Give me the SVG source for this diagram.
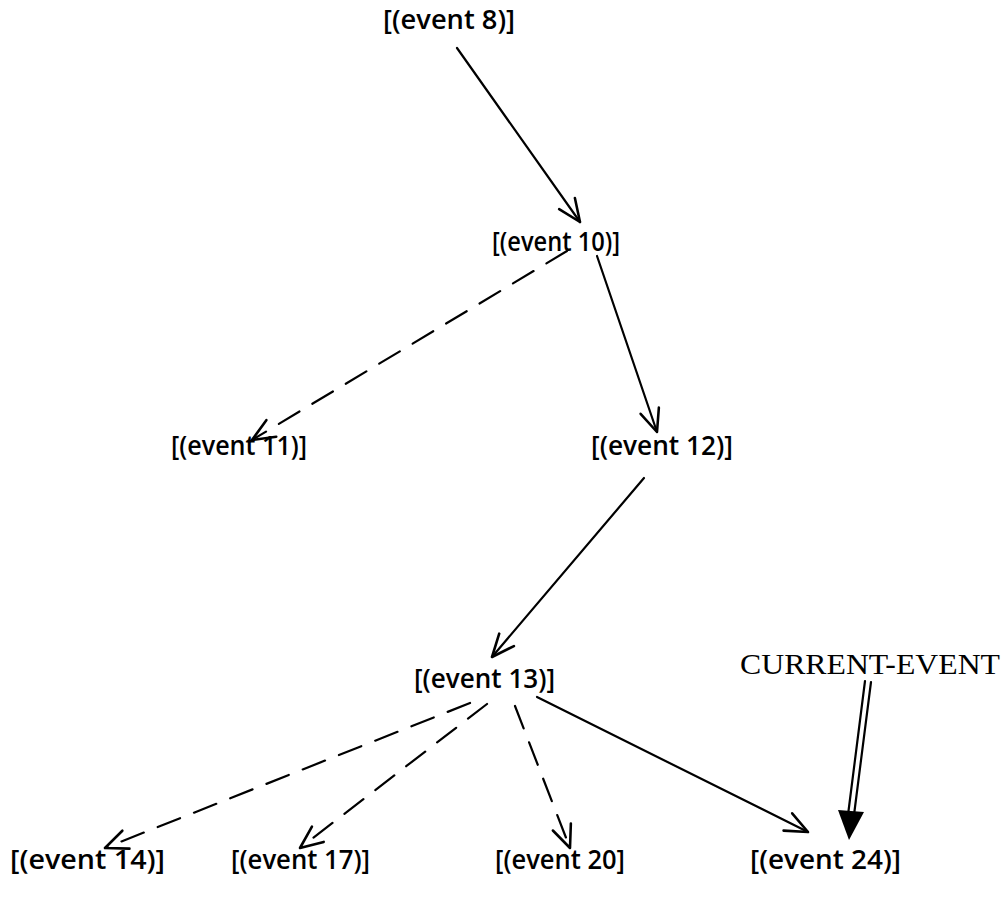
<svg xmlns="http://www.w3.org/2000/svg" width="1005" height="898" viewBox="0 0 1005 898">
<style>
  .lbl { font-family: "Open Sans", "Noto Sans", sans-serif; font-size: 27px; font-weight: 600; fill: #000; }
  .cur { font-family: "Liberation Serif", "DejaVu Serif", serif; font-size: 30px; fill: #000; }
  .edge { stroke: #000; stroke-width: 2.2; fill: none; stroke-linecap: round; }
  .dash { stroke-dasharray: 24 15; }
</style>
<defs>
  <marker id="vee" markerUnits="userSpaceOnUse" markerWidth="30" markerHeight="30" viewBox="-24 -12 28 24" refX="0" refY="0" orient="auto" overflow="visible">
    <path d="M -21 -9 L 0 0 L -21 9" fill="none" stroke="#000" stroke-width="2.4" stroke-linecap="round" stroke-linejoin="round"/>
  </marker>
</defs>
<rect width="1005" height="898" fill="#fff"/>

<g id="connectors">
  <line class="edge" x1="457" y1="48" x2="580" y2="222" marker-end="url(#vee)"/>
  <line class="edge dash" x1="567" y1="251" x2="252" y2="440" marker-end="url(#vee)"/>
  <line class="edge" x1="597" y1="256" x2="657" y2="432" marker-end="url(#vee)"/>
  <line class="edge" x1="644" y1="478" x2="492" y2="657" marker-end="url(#vee)"/>
  <line class="edge dash" x1="470" y1="703" x2="105" y2="848" marker-end="url(#vee)"/>
  <line class="edge dash" x1="487" y1="704" x2="300" y2="848" marker-end="url(#vee)"/>
  <line class="edge dash" x1="515" y1="706" x2="570" y2="848" marker-end="url(#vee)"/>
  <line class="edge" x1="537" y1="697" x2="808" y2="832" marker-end="url(#vee)"/>
  <g id="current-pointer">
    <line class="edge" x1="865" y1="681" x2="848" y2="815"/>
    <line class="edge" x1="871" y1="682" x2="854" y2="815"/>
    <polygon points="849,840 864,812 838,810" fill="#000"/>
  </g>
</g>

<g id="event8"><text class="lbl" x="383" y="29" textLength="132" lengthAdjust="spacingAndGlyphs">[(event 8)]</text></g>
<g id="event10"><text class="lbl" x="492" y="251" textLength="128" lengthAdjust="spacingAndGlyphs">[(event 10)]</text></g>
<g id="event11"><text class="lbl" x="171" y="455" textLength="136" lengthAdjust="spacingAndGlyphs">[(event 11)]</text></g>
<g id="event12"><text class="lbl" x="591" y="455" textLength="142" lengthAdjust="spacingAndGlyphs">[(event 12)]</text></g>
<g id="event13"><text class="lbl" x="414" y="688" textLength="141" lengthAdjust="spacingAndGlyphs">[(event 13)]</text></g>
<g id="current-event"><text class="cur" x="740" y="674" textLength="260" lengthAdjust="spacingAndGlyphs">CURRENT-EVENT</text></g>
<g id="event14"><text class="lbl" x="10" y="869" textLength="155" lengthAdjust="spacingAndGlyphs">[(event 14)]</text></g>
<g id="event17"><text class="lbl" x="231" y="869" textLength="139" lengthAdjust="spacingAndGlyphs">[(event 17)]</text></g>
<g id="event20"><text class="lbl" x="495" y="869" textLength="130" lengthAdjust="spacingAndGlyphs">[(event 20]</text></g>
<g id="event24"><text class="lbl" x="750" y="869" textLength="151" lengthAdjust="spacingAndGlyphs">[(event 24)]</text></g>
</svg>
